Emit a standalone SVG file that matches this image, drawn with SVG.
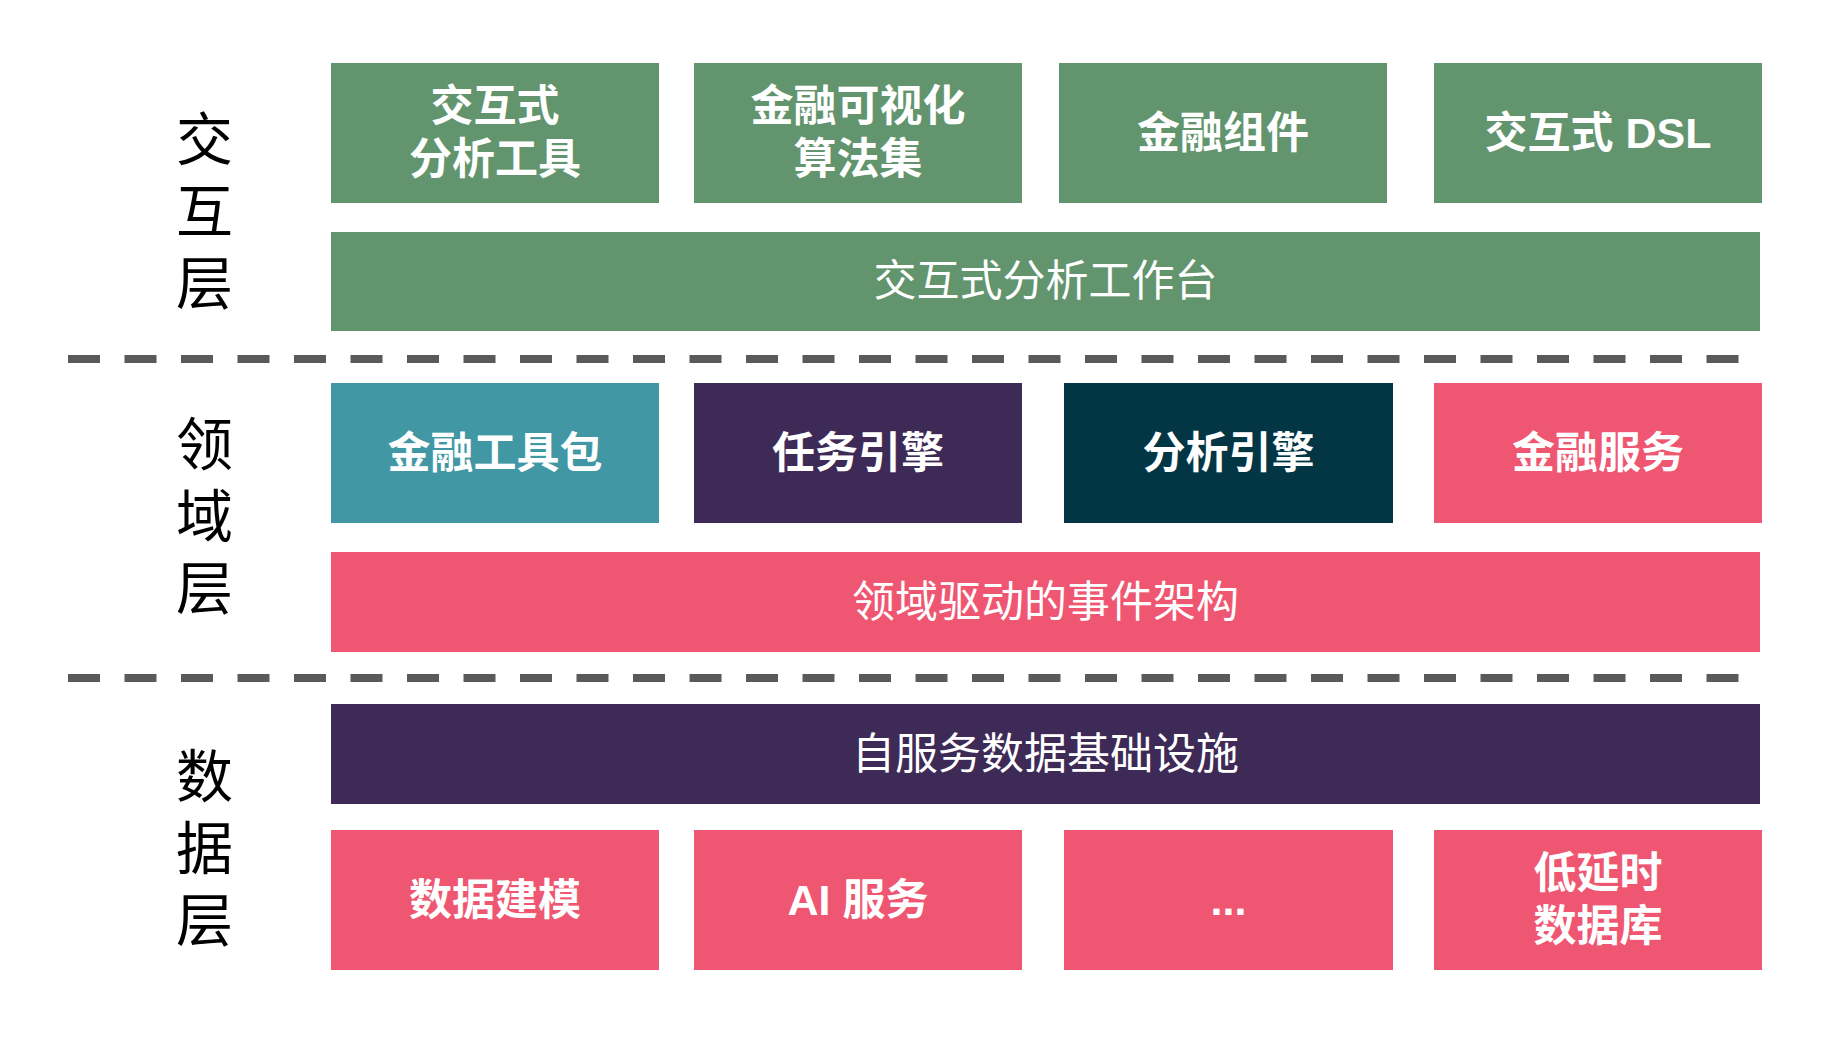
<svg xmlns="http://www.w3.org/2000/svg" width="1832" height="1050" viewBox="0 0 1832 1050">
<style>
.bg{fill:#ffffff}
.g{fill:#62946E}
.t{fill:#4197A3}
.p{fill:#3E2A56}
.d{fill:#033645}
.r{fill:#EF5671}
.lb{font-family:"Liberation Sans","Noto Sans CJK SC",sans-serif;font-weight:bold;font-size:43px;fill:#ffffff;text-anchor:middle}
.lw{font-family:"Noto Sans CJK SC",sans-serif;font-weight:normal;font-size:43px;fill:#ffffff;text-anchor:middle}
.side{font-family:"Noto Sans CJK SC",sans-serif;font-weight:normal;font-size:57px;fill:#000000;writing-mode:vertical-rl;letter-spacing:15px}
.dash{stroke:#5A5A5A;stroke-width:8;stroke-dasharray:32 24.5;fill:none}
</style>
<rect class="bg" x="0" y="0" width="1832" height="1050"/>
<g id="connectors">
<line class="dash" x1="68" y1="359" x2="1741" y2="359"/>
<line class="dash" x1="68" y1="678" x2="1741" y2="678"/>
</g>
<g id="layer-interaction">
<text class="side" x="204.5" y="110">交互层</text>
</g>
<g id="layer-domain">
<text class="side" x="204.5" y="415">领域层</text>
</g>
<g id="layer-data">
<text class="side" x="204.5" y="747">数据层</text>
</g>
<g id="n-interactive-tools">
<rect class="g" x="331" y="63" width="328" height="140"/>
<text class="lb" x="495" y="121">交互式</text>
<text class="lb" x="495" y="174">分析工具</text>
</g>
<g id="n-viz-algos">
<rect class="g" x="694" y="63" width="328" height="140"/>
<text class="lb" x="858" y="121">金融可视化</text>
<text class="lb" x="858" y="174">算法集</text>
</g>
<g id="n-fin-components">
<rect class="g" x="1059" y="63" width="328" height="140"/>
<text class="lb" x="1223" y="148">金融组件</text>
</g>
<g id="n-dsl">
<rect class="g" x="1434" y="63" width="328" height="140"/>
<text class="lb" x="1598" y="148">交互式 DSL</text>
</g>
<g id="n-workbench">
<rect class="g" x="331" y="232" width="1429" height="99"/>
<text class="lw" x="1045.5" y="296">交互式分析工作台</text>
</g>
<g id="n-toolkit">
<rect class="t" x="331" y="383" width="328" height="140"/>
<text class="lb" x="495" y="468">金融工具包</text>
</g>
<g id="n-task-engine">
<rect class="p" x="694" y="383" width="328" height="140"/>
<text class="lb" x="858" y="468">任务引擎</text>
</g>
<g id="n-analysis-engine">
<rect class="d" x="1064" y="383" width="329" height="140"/>
<text class="lb" x="1228.5" y="468">分析引擎</text>
</g>
<g id="n-fin-services">
<rect class="r" x="1434" y="383" width="328" height="140"/>
<text class="lb" x="1598" y="468">金融服务</text>
</g>
<g id="n-event-arch">
<rect class="r" x="331" y="552" width="1429" height="100"/>
<text class="lw" x="1045.5" y="617">领域驱动的事件架构</text>
</g>
<g id="n-data-infra">
<rect class="p" x="331" y="704" width="1429" height="100"/>
<text class="lw" x="1045.5" y="769">自服务数据基础设施</text>
</g>
<g id="n-data-modeling">
<rect class="r" x="331" y="830" width="328" height="140"/>
<text class="lb" x="495" y="915">数据建模</text>
</g>
<g id="n-ai-services">
<rect class="r" x="694" y="830" width="328" height="140"/>
<text class="lb" x="858" y="915">AI 服务</text>
</g>
<g id="n-more">
<rect class="r" x="1064" y="830" width="329" height="140"/>
<text class="lb" x="1228.5" y="915">...</text>
</g>
<g id="n-lowlatency-db">
<rect class="r" x="1434" y="830" width="328" height="140"/>
<text class="lb" x="1598" y="888">低延时</text>
<text class="lb" x="1598" y="941">数据库</text>
</g>
</svg>
